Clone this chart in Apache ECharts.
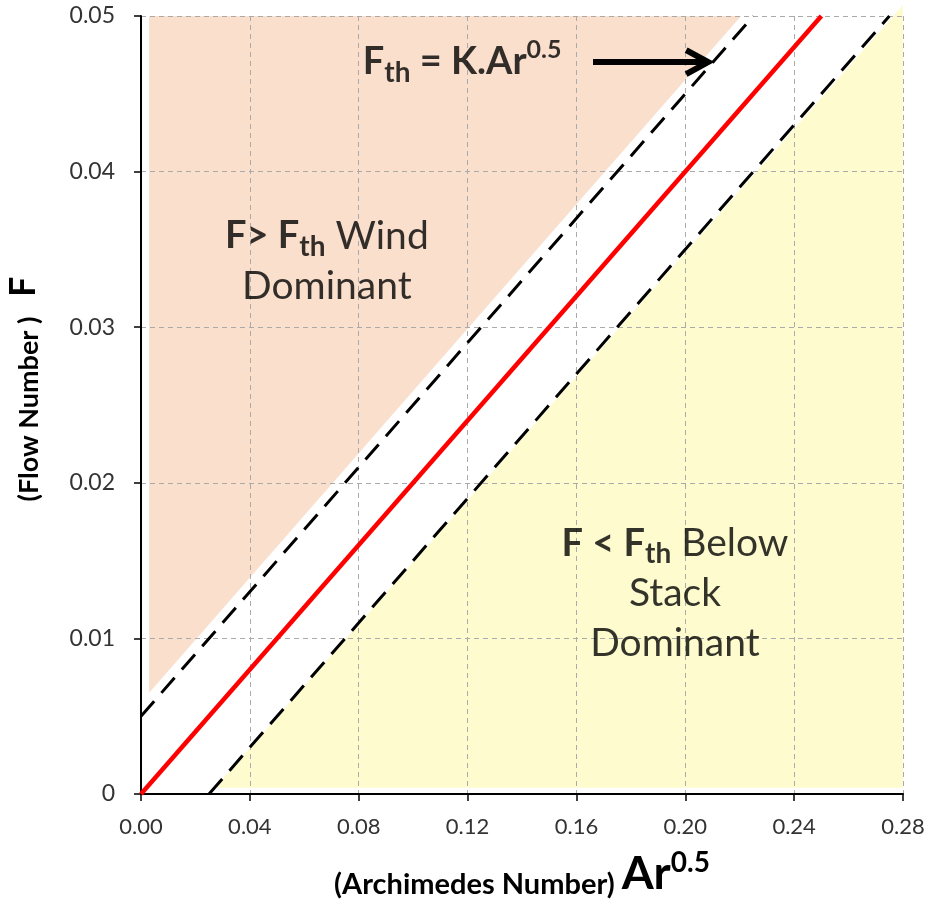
<!DOCTYPE html>
<html>
<head>
<meta charset="utf-8">
<script src="https://cdn.jsdelivr.net/npm/echarts@6/dist/echarts.min.js"></script>
<style>
  html, body { margin: 0; padding: 0; background: #fff; }
  #main { width: 926px; height: 906px; }
</style>
</head>
<body>
<div id="main"></div>
<script>
// threshold line F = K.Ar^0.5 (K ~ 0.2) and its +/- band
var redX = [0, 0.25];
var redY = [0, 0.05];
var upperX = [0, 0.225];
var upperY = [0.005, 0.05];
var lowerX = [0.025, 0.275];
var lowerY = [0, 0.05];

// shaded regions
var windX = [0.003, 0.003, 0.2205];
var windY = [0.0065, 0.05, 0.05];
var stackX = [0.0272, 0.28, 0.28];
var stackY = [0.0004, 0.0004, 0.0507];

// annotation arrow + text anchors
var arrowX = [0.1661, 0.2084];
var arrowY = [0.04704, 0.04704];
var textX = [0.118, 0.0683, 0.1962];
var textY = [0.04704, 0.03425, 0.0129];

function zip(xs, ys) {
  var out = [];
  for (var i = 0; i < xs.length; i++) out.push([xs[i], ys[i]]);
  return out;
}

function polygonSeries(xs, ys, color) {
  return {
    type: 'custom',
    silent: true,
    z: -1,
    data: [0],
    renderItem: function (params, api) {
      var pts = [];
      for (var i = 0; i < xs.length; i++) pts.push(api.coord([xs[i], ys[i]]));
      return { type: 'polygon', shape: { points: pts }, style: { fill: color } };
    }
  };
}

var font = 'Lato';

var chart = echarts.init(document.getElementById('main'));
var option = {
  animation: false,
  backgroundColor: '#fff',
  grid: { left: 141, right: 23, top: 16, bottom: 112, outerBoundsMode: 'none', containLabel: false },
  xAxis: {
    type: 'value',
    min: 0, max: 0.28, interval: 0.04,
    axisLine: { lineStyle: { color: '#000', width: 2 } },
    axisTick: { show: true, length: 7, lineStyle: { color: '#000', width: 1.5 } },
    axisLabel: { fontSize: 22, color: '#333', fontFamily: font, margin: 22,
      formatter: function (v) { return v.toFixed(2); } },
    splitLine: { show: true, lineStyle: { color: '#aaa', type: [5, 4], width: 1 } },
    name: '{n|(Archimedes Number) }{a|Ar}{p|0.5}',
    nameLocation: 'middle',
    nameGap: 55,
    nameTextStyle: {
      rich: {
        n: { fontSize: 29, fontWeight: 'bold', color: '#000', fontFamily: font, lineHeight: 34, verticalAlign: 'bottom' },
        a: { fontSize: 46, fontWeight: 'bold', color: '#000', fontFamily: font, lineHeight: 50 },
        p: { fontSize: 28, fontWeight: 'bold', color: '#000', fontFamily: font, lineHeight: 30, verticalAlign: 'top' }
      }
    }
  },
  yAxis: {
    type: 'value',
    min: 0, max: 0.05, interval: 0.01,
    axisLine: { show: true, lineStyle: { color: '#000', width: 2 } },
    axisTick: { show: true, length: 7, lineStyle: { color: '#000', width: 1.5 } },
    axisLabel: { fontSize: 23, color: '#333', fontFamily: font, margin: 26,
      formatter: function (v) { return v === 0 ? '0' : v.toFixed(2); } },
    splitLine: { show: true, lineStyle: { color: '#aaa', type: [5, 4], width: 1 } },
    name: '{n|(Flow Number )   }{f|F}',
    nameLocation: 'middle',
    nameRotate: 90,
    nameGap: 98,
    nameTextStyle: {
      padding: [0, 0, 0, 32],
      rich: {
        n: { fontSize: 27, fontWeight: 'bold', color: '#000', fontFamily: font, lineHeight: 40, verticalAlign: 'bottom' },
        f: { fontSize: 36, fontWeight: 'bold', color: '#000', fontFamily: font, lineHeight: 40 }
      }
    }
  },
  series: [
    polygonSeries(windX, windY, '#f9dfcc'),
    polygonSeries(stackX, stackY, '#fefccf'),
    {
      type: 'line', data: zip(redX, redY), symbol: 'none', z: 5,
      lineStyle: { color: '#ff0000', width: 4.5 }
    },
    {
      type: 'line', data: zip(upperX, upperY), symbol: 'none', z: 4,
      lineStyle: { color: '#000', width: 3, type: [20, 11] }
    },
    {
      type: 'line', data: zip(lowerX, lowerY), symbol: 'none', z: 4,
      lineStyle: { color: '#000', width: 3, type: [20, 11] }
    },
    {
      // arrow pointing at the threshold band
      type: 'custom', z: 6, silent: true, data: [0],
      renderItem: function (params, api) {
        var a = api.coord([arrowX[0], arrowY[0]]);
        var b = api.coord([arrowX[1], arrowY[1]]);
        return {
          type: 'group',
          children: [
            { type: 'line', shape: { x1: a[0], y1: a[1], x2: b[0] - 3, y2: b[1] },
              style: { stroke: '#000', lineWidth: 6 } },
            { type: 'polyline', shape: { points: [[b[0] - 22, b[1] - 12], [b[0], b[1]], [b[0] - 22, b[1] + 12]] },
              style: { stroke: '#000', lineWidth: 6, fill: null, lineJoin: 'miter' } }
          ]
        };
      }
    },
    {
      type: 'scatter', z: 7, symbolSize: 0, silent: true,
      data: [
        { value: [textX[0], textY[0]],
          label: { formatter: '{b|F}{s|th}{b| = K.Ar}{p|0.5}' } },
        { value: [textX[1], textY[1]],
          label: { formatter: '{b|F> F}{s|th}{r| Wind}\n{r|Dominant}' } },
        { value: [textX[2], textY[2]],
          label: { formatter: '{b|F < F}{s|th}{r| Below}\n{r|Stack}\n{r|Dominant}' } }
      ],
      label: {
        show: true, position: 'inside', align: 'center', verticalAlign: 'middle', color: '#000',
        rich: {
          b: { fontSize: 38, fontWeight: 'bold', color: '#000', fontFamily: font, lineHeight: 50 },
          r: { fontSize: 39, color: '#000', fontFamily: font, lineHeight: 50 },
          s: { fontSize: 28, fontWeight: 'bold', color: '#000', fontFamily: font, lineHeight: 22, verticalAlign: 'bottom' },
          p: { fontSize: 25, fontWeight: 'bold', color: '#000', fontFamily: font, lineHeight: 34, verticalAlign: 'top' }
        }
      }
    }
  ]
};
chart.setOption(option);
</script>
</body>
</html>
